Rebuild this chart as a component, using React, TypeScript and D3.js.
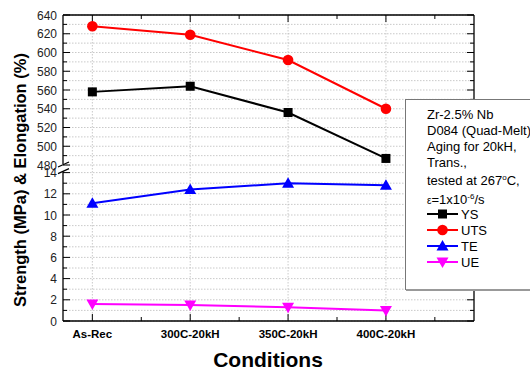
import React from 'react';
import * as d3 from 'd3';

const conditions = ['As-Rec', '300C-20kH', '350C-20kH', '400C-20kH'];
const ysValues = [558, 564, 536, 487];
const utsValues = [628, 619, 592, 540];
const teValues = [11.1, 12.4, 13.0, 12.8];
const ueValues = [1.6, 1.5, 1.3, 1.0];
const topTicks = [480, 500, 520, 540, 560, 580, 600, 620, 640];
const bottomTicks = [0, 2, 4, 6, 8, 10, 12, 14];
const legendLines = ['Zr-2.5% Nb', 'D084 (Quad-Melt)', 'Aging for 20kH,', 'Trans.,'];

const FONT = '"Liberation Sans", Arial, sans-serif';

type Marker = 'square' | 'circle' | 'up' | 'down';

function symbol(kind: Marker, cx: number, cy: number, color: string, key?: string | number) {
  if (kind === 'square') return <rect key={key} x={cx - 4.5} y={cy - 4.5} width={9} height={9} fill={color} />;
  if (kind === 'circle') return <circle key={key} cx={cx} cy={cy} r={5.3} fill={color} />;
  if (kind === 'up') return <path key={key} d={`M${cx},${cy - 6}L${cx + 6},${cy + 4.5}L${cx - 6},${cy + 4.5}Z`} fill={color} />;
  return <path key={key} d={`M${cx},${cy + 6}L${cx + 6},${cy - 4.5}L${cx - 6},${cy - 4.5}Z`} fill={color} />;
}

export default function App() {
  const left = 63, right = 474, top = 15, bottom = 321;
  const breakTop = 165, breakBot = 172.6;

  const x = d3.scaleLinear().domain([-0.3, 3.9]).range([left, right]);
  const yTop = d3.scaleLinear().domain([480, 640]).range([breakTop, top]);
  const yBot = d3.scaleLinear().domain([0, 14]).range([bottom, breakBot]);

  const series = [
    { name: 'YS', values: ysValues, scale: yTop, color: '#000000', marker: 'square' as Marker },
    { name: 'UTS', values: utsValues, scale: yTop, color: '#ff0000', marker: 'circle' as Marker },
    { name: 'TE', values: teValues, scale: yBot, color: '#0000ff', marker: 'up' as Marker },
    { name: 'UE', values: ueValues, scale: yBot, color: '#ff00ff', marker: 'down' as Marker },
  ];

  const topMinor = d3.range(480, 641, 10);
  const botMinor = d3.range(0, 15, 1);
  const xMinor = d3.range(-0.5, 4, 0.5).filter(v => v > -0.3 && v < 3.9);

  const line = (sc: d3.ScaleLinear<number, number>) =>
    d3.line<number>().x((_, i) => x(i)).y(d => sc(d));

  const legX = 427;
  const textRows = [114, 130, 146, 162];
  const keyRows = [214, 230, 246, 262];

  return (
    <svg width={530} height={373} style={{ position: 'absolute', left: 0, top: 0, background: '#fff' }} fontFamily={FONT}>
      {/* grid */}
      <g stroke="#bbb" strokeWidth={0.8} strokeDasharray="1.5,1.5">
        {topMinor.map(v => <line key={'gt' + v} x1={left} x2={right} y1={yTop(v)} y2={yTop(v)} />)}
        {botMinor.map(v => <line key={'gb' + v} x1={left} x2={right} y1={yBot(v)} y2={yBot(v)} />)}
        {conditions.map((_, i) => <line key={'gv' + i} x1={x(i)} x2={x(i)} y1={top} y2={bottom} />)}
      </g>

      {/* frame */}
      <g stroke="#000" strokeWidth={1.3} fill="none">
        <line x1={left} x2={right} y1={top} y2={top} />
        <line x1={left} x2={right} y1={bottom} y2={bottom} />
        <line x1={left} x2={left} y1={top} y2={breakTop - 1} />
        <line x1={left} x2={left} y1={breakBot - 1} y2={bottom} />
        <line x1={right} x2={right} y1={top} y2={breakTop - 1} />
        <line x1={right} x2={right} y1={breakBot - 1} y2={bottom} />
        <line x1={left - 5} x2={left + 6} y1={breakTop + 2} y2={breakTop - 3} />
        <line x1={left - 5} x2={left + 6} y1={breakBot + 1} y2={breakBot - 4} />
        <line x1={right - 5} x2={right + 6} y1={breakTop + 2} y2={breakTop - 3} />
        <line x1={right - 5} x2={right + 6} y1={breakBot + 1} y2={breakBot - 4} />
      </g>

      {/* ticks, all pointing inward */}
      <g stroke="#000" strokeWidth={1}>
        {topMinor.map(v => {
          const len = v % 20 === 0 ? 7 : 4;
          return (
            <g key={'tt' + v}>
              <line x1={left} x2={left + len} y1={yTop(v)} y2={yTop(v)} />
              <line x1={right} x2={right - len} y1={yTop(v)} y2={yTop(v)} />
            </g>
          );
        })}
        {botMinor.map(v => {
          const len = v % 2 === 0 ? 7 : 4;
          return (
            <g key={'tb' + v}>
              <line x1={left} x2={left + len} y1={yBot(v)} y2={yBot(v)} />
              <line x1={right} x2={right - len} y1={yBot(v)} y2={yBot(v)} />
            </g>
          );
        })}
        {xMinor.map(v => {
          const len = Number.isInteger(v) ? 7 : 4;
          return (
            <g key={'tx' + v}>
              <line x1={x(v)} x2={x(v)} y1={bottom} y2={bottom - len} />
              <line x1={x(v)} x2={x(v)} y1={top} y2={top + len} />
            </g>
          );
        })}
      </g>

      {/* tick labels */}
      <g fontSize={12} fill="#222" textAnchor="end">
        {topTicks.map(v => <text key={'lt' + v} x={left - 6} y={yTop(v) + 4.5}>{v}</text>)}
        {bottomTicks.map(v => <text key={'lb' + v} x={left - 6} y={yBot(v) + 4.5}>{v}</text>)}
      </g>
      <g fontSize={11.5} fontWeight="bold" fill="#000" textAnchor="middle">
        {conditions.map((c, i) => <text key={c} x={x(i)} y={338}>{c}</text>)}
      </g>

      {/* axis titles */}
      <text x={268} y={367} fontSize={21} fontWeight="bold" textAnchor="middle">Conditions</text>
      <text transform="translate(26,180) rotate(-90)" fontSize={16.5} fontWeight="bold" textAnchor="middle">
        Strength (MPa) &amp; Elongation (%)
      </text>

      {/* series */}
      {series.map(s => (
        <g key={s.name}>
          <path d={line(s.scale)(s.values) || ''} fill="none" stroke={s.color} strokeWidth={2} />
          {s.values.map((v, i) => symbol(s.marker, x(i), s.scale(v), s.color, i))}
        </g>
      ))}

      {/* legend */}
      <rect x={405.5} y={99.5} width={140} height={190} fill="#fff" stroke="#777" strokeWidth={1} />
      <line x1={406} x2={546} y1={290} y2={290} stroke="#999" strokeWidth={2} />
      <g fontSize={13} fill="#000">
        {legendLines.map((t, i) => <text key={t} x={legX} y={textRows[i] + 4.6}>{t}</text>)}
        <text x={legX} y={184.6}>tested at 267<tspan dy={-5} fontSize={8}>o</tspan><tspan dy={5}>C,</tspan></text>
        <text x={legX} y={203.6}><tspan fontSize={10}>ε</tspan>=1x10<tspan dy={-5} fontSize={8}>-6</tspan><tspan dy={5}>/s</tspan></text>
        {series.map((s, i) => {
          const cy = keyRows[i];
          return (
            <g key={'lg' + s.name}>
              <line x1={legX} x2={legX + 31} y1={cy} y2={cy} stroke={s.color} strokeWidth={2} />
              {symbol(s.marker, legX + 15.5, cy, s.color)}
              <text x={legX + 34} y={cy + 4.6}>{s.name}</text>
            </g>
          );
        })}
      </g>
    </svg>
  );
}
